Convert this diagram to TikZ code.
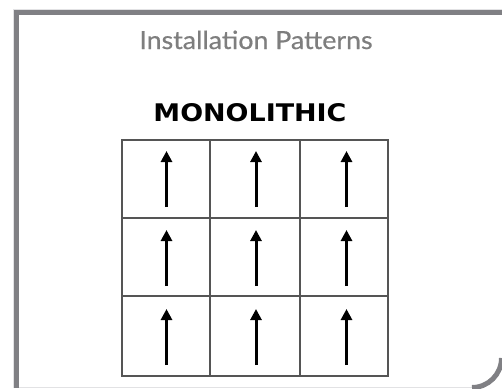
\documentclass[tikz,border=0pt]{standalone}
\usepackage{fontspec}
\usepackage{graphicx}
\usetikzlibrary{arrows.meta}
\setmainfont{Lato}
\newfontfamily\titlefont[FakeBold=0.6]{Lato}
\newfontfamily\headfont{DejaVu Sans}
\definecolor{framegray}{HTML}{808084}
\definecolor{edgegray}{HTML}{E2E2E4}
\definecolor{titlegray}{HTML}{7E7E7E}
\definecolor{gridgray}{HTML}{555555}
\begin{document}
\begin{tikzpicture}[x=1pt,y=-1pt,
  cellline/.style={draw=gridgray,line width=1.4pt},
  uparrow/.style={-{Triangle[length=11pt,width=11pt]},line width=3pt,black},
  band/.style={draw=framegray,line width=5pt}]
\useasboundingbox (0,0) rectangle (502,388);
% card frame: thin light outer edge, thick grey band on top and left
\draw[edgegray,line width=1pt] (13,388) -- (13,9.5) -- (502,9.5);
\draw[edgegray,line width=1pt] (19,387.5) -- (478,387.5);
\draw[band] (16.5,388) -- (16.5,12.5) -- (502,12.5);
% rounded lower right corner of the card
\draw[framegray,line width=5pt] (501.5,358) arc[start angle=0,end angle=90,radius=29.5];
% heading
\node[anchor=base,text=titlegray,font=\titlefont\fontsize{25}{28}\selectfont] (title) at (256,49) {\scalebox{1.07}[1]{Installation Patterns}};
\node[anchor=base,font=\headfont\bfseries\fontsize{24}{28}\selectfont] (mono) at (250,121) {\resizebox{193pt}{18pt}{MONOLITHIC}};
% 3x3 grid
\coordinate (g00) at (122,140);
\coordinate (g33) at (388,376);
\draw[cellline] (g00) rectangle (g33);
\draw[cellline] (210,140) -- (210,376);
\draw[cellline] (300,140) -- (300,376);
\draw[cellline] (122,218) -- (388,218);
\draw[cellline] (122,296) -- (388,296);
% one arrow per cell, all pointing up
\foreach \cx/\col in {166.5/1,256/2,346.5/3}{
  \foreach \ty/\row in {151/1,230/2,309/3}{
    \coordinate (b\col\row) at (\cx,\ty+56);
    \coordinate (t\col\row) at (\cx,\ty);
    \draw[uparrow] (b\col\row) -- (t\col\row);
  }
}
\end{tikzpicture}
\end{document}
